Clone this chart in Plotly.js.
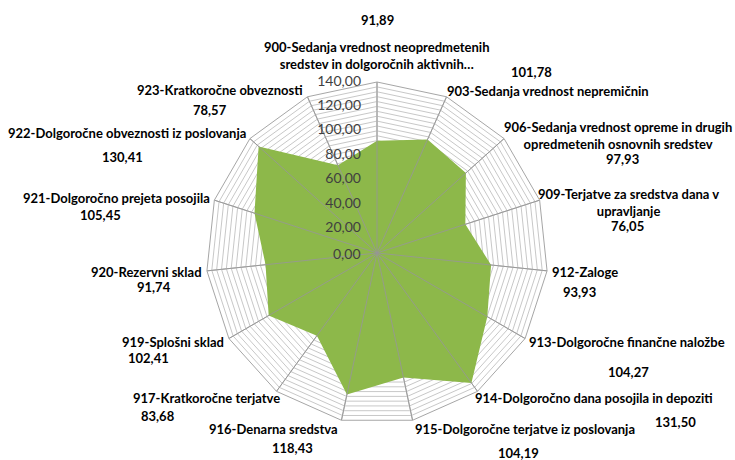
<!DOCTYPE html>
<html><head><meta charset="utf-8">
<script src="https://cdn.plot.ly/plotly-3.0.1.min.js"></script>
<style>html,body{margin:0;padding:0;background:#fff}</style>
</head><body><div id="chart" style="width:735px;height:460px"></div>
<script>
const categories = [
  "900-Sedanja vrednost neopredmetenih<br>sredstev in dolgoročnih aktivnih…",
  "903-Sedanja vrednost nepremičnin",
  "906-Sedanja vrednost opreme in drugih<br>opredmetenih osnovnih sredstev",
  "909-Terjatve za sredstva dana v<br>upravljanje",
  "912-Zaloge",
  "913-Dolgoročne finančne naložbe",
  "914-Dolgoročno dana posojila in depoziti",
  "915-Dolgoročne terjatve iz poslovanja",
  "916-Denarna sredstva",
  "917-Kratkoročne terjatve",
  "919-Splošni sklad",
  "920-Rezervni sklad",
  "921-Dolgoročno prejeta posojila",
  "922-Dolgoročne obveznosti iz poslovanja",
  "923-Kratkoročne obveznosti"
];
const values = [91.89, 101.78, 97.93, 76.05, 93.93, 104.27, 131.50, 104.19, 118.43, 83.68, 102.41, 91.74, 105.45, 130.41, 78.57];
const majorTicks = [0, 20, 40, 60, 80, 100, 120, 140];
const minorStep = 4;
const radialMax = 140;

// layout only: pixel anchors of the category labels [x, y, xanchor] and value labels [x, y]
const catLabelPx = [[377,56,'center'],[445,91,'left'],[618,135,'center'],[628,202,'center'],[550,272,'left'],
  [527,342,'left'],[473,398,'left'],[413,429,'left'],[340,429,'right'],[282,398,'right'],
  [226,342,'right'],[204,272,'right'],[212,198,'right'],[248,133,'right'],[305,90,'right']];
const valueLabelPx = [[378,20],[531,72],[622,159],[627,226],[579,292],[628,372],[675,422],[518,453],[292,448],[158,416],[148,358],[154,287],[100,215],[122,157],[210,110]];

const W = 735, H = 460;
const cx = 377, cy = 253, R = 171;
const tickGap = 14;

const fmt = v => v.toFixed(2).replace('.', ',');

const gridVals = [];
for (let v = 0; v <= radialMax; v += minorStep) gridVals.push(v);

const spokeR = [], spokeT = [];
categories.forEach(c => { spokeR.push(0, radialMax, null); spokeT.push(c, c, c); });

const tickFont = {family: 'Lato, sans-serif', size: 14, color: '#404040'};
const outerTicks = majorTicks.filter(v => v > 0);
const centreTicks = majorTicks.filter(v => v === 0);

const traces = [
  {
    type: 'scatterpolar', r: values, theta: categories,
    mode: 'lines', fill: 'toself', fillcolor: '#8db84a',
    line: {width: 0, color: '#8db84a'}, hoverinfo: 'skip', showlegend: false
  },
  {
    type: 'scatterpolar', r: spokeR, theta: spokeT,
    mode: 'lines', line: {width: 1, color: 'rgba(150,150,150,0.85)'},
    hoverinfo: 'skip', showlegend: false, connectgaps: false
  },
  {
    // radial axis tick labels, drawn on the rings left of the first spoke
    type: 'scatterpolar', r: outerTicks, theta: outerTicks.map(() => categories[0]),
    mode: 'markers+text', text: outerTicks.map(fmt), textposition: 'middle left',
    marker: {size: 24, color: 'rgba(0,0,0,0)'}, cliponaxis: false,
    textfont: tickFont, hoverinfo: 'skip', showlegend: false
  }
];

const labelFont = {family: 'Lato, sans-serif', size: 13, color: '#000', weight: 'bold'};

const annotations = [];
// the tick at the pole (Plotly hides trace points at r = range minimum)
centreTicks.forEach(v => annotations.push({
  text: fmt(v), xref: 'paper', yref: 'paper',
  x: (cx - tickGap) / W, y: 1 - cy / H,
  xanchor: 'right', yanchor: 'middle', showarrow: false, font: tickFont
}));
categories.forEach((c, i) => annotations.push({
  text: c, xref: 'paper', yref: 'paper',
  x: catLabelPx[i][0] / W, y: 1 - catLabelPx[i][1] / H,
  xanchor: catLabelPx[i][2], yanchor: 'middle', align: 'center', showarrow: false,
  font: labelFont
}));
values.forEach((v, i) => annotations.push({
  text: fmt(v), xref: 'paper', yref: 'paper',
  x: valueLabelPx[i][0] / W, y: 1 - valueLabelPx[i][1] / H,
  xanchor: 'center', yanchor: 'middle', showarrow: false,
  font: labelFont
}));

const layout = {
  width: W, height: H,
  margin: {l: 0, r: 0, t: 0, b: 0},
  paper_bgcolor: '#fff',
  showlegend: false,
  annotations: annotations,
  polar: {
    domain: {x: [(cx - R) / W, (cx + R) / W], y: [1 - (cy + R) / H, 1 - (cy - R) / H]},
    gridshape: 'linear',
    bgcolor: '#fff',
    angularaxis: {
      direction: 'clockwise', rotation: 90, type: 'category',
      showline: true, linecolor: '#a6a6a6', linewidth: 1,
      gridcolor: '#a6a6a6', ticks: '', showticklabels: false
    },
    radialaxis: {
      range: [0, radialMax], angle: 90, side: 'counterclockwise',
      tickmode: 'array', tickvals: gridVals, showticklabels: false,
      showline: false, ticks: '', gridcolor: '#c8c8c8', gridwidth: 1
    }
  }
};

Plotly.newPlot('chart', traces, layout, {displayModeBar: false, staticPlot: true});
</script></body></html>
